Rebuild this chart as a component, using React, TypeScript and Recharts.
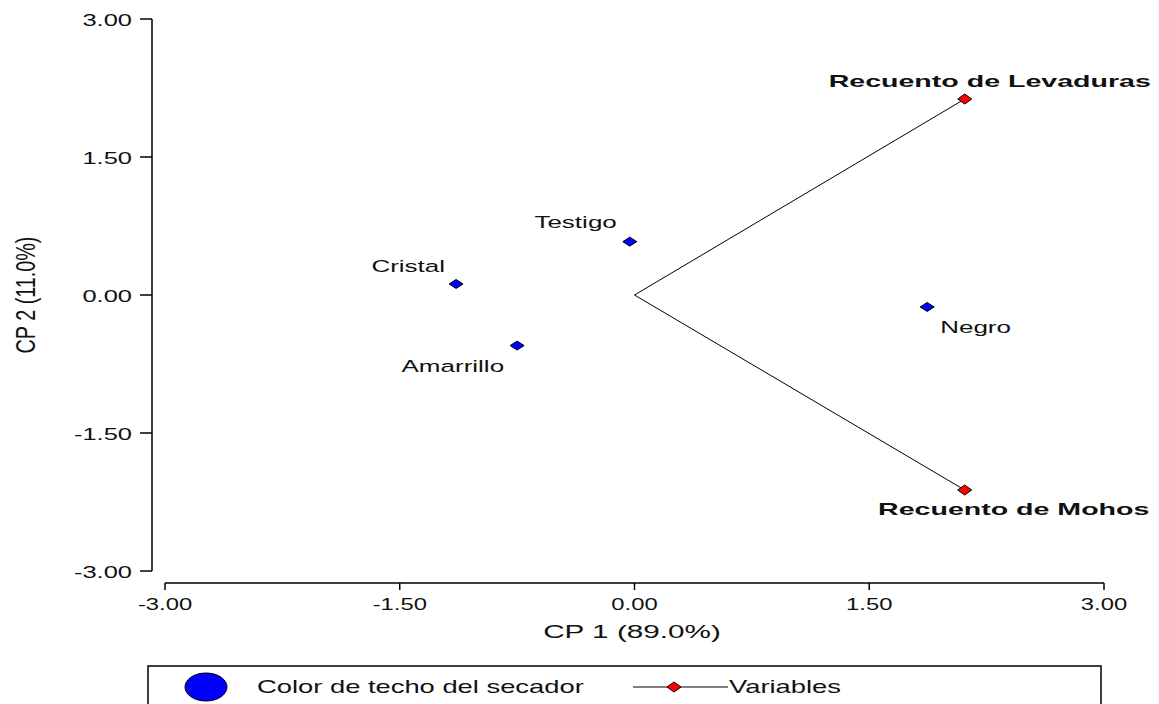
import React from 'react'
import { ScatterChart, Scatter, XAxis, YAxis } from 'recharts'

// Scores: color de techo del secador
const treatments = ['Cristal', 'Testigo', 'Amarrillo', 'Negro']
const cp1Scores = [-1.14, -0.03, -0.75, 1.87]
const cp2Scores = [0.12, 0.58, -0.55, -0.13]

// Variables (vectores desde el origen)
const variables = ['Recuento de Levaduras', 'Recuento de Mohos']
const cp1Loadings = [2.11, 2.11]
const cp2Loadings = [2.13, -2.12]

const axisTicks = [-3, -1.5, 0, 1.5, 3]

const scoreData = treatments.map((name, i) => ({ name, x: cp1Scores[i], y: cp2Scores[i] }))
// Levaduras -> origen -> Mohos, drawn as one joined line
const vectorData = [
    { name: variables[0], x: cp1Loadings[0], y: cp2Loadings[0] },
    { name: '', x: 0, y: 0 },
    { name: variables[1], x: cp1Loadings[1], y: cp2Loadings[1] },
]

// label offsets relative to the point (pixels)
const labelPlacement: Record<string, { dx: number; dy: number; anchor: string }> = {
    Cristal: { dx: -11, dy: -12, anchor: 'end' },
    Testigo: { dx: -13, dy: -14, anchor: 'end' },
    Amarrillo: { dx: -13, dy: 26, anchor: 'end' },
    Negro: { dx: 13, dy: 26, anchor: 'start' },
    'Recuento de Levaduras': { dx: 25, dy: -12, anchor: 'middle' },
    'Recuento de Mohos': { dx: 49, dy: 25, anchor: 'middle' },
}

const FONT = "'Liberation Sans', Arial, sans-serif"
const INK = '#111'

// the reference is stretched sideways, so text gets a horizontal scale
function WideText({ x, y, sx = 1.53, anchor = 'start', size = 17, bold = false, children }: any) {
    return (
        <text
            transform={`translate(${x},${y}) scale(${sx},1)`}
            textAnchor={anchor}
            fontSize={size}
            fontWeight={bold ? 'bold' : 'normal'}
            fontFamily={FONT}
            fill={INK}
        >
            {children}
        </text>
    )
}

const diamond = (cx: number, cy: number, hw: number, hh: number) =>
    `${cx - hw},${cy} ${cx},${cy - hh} ${cx + hw},${cy} ${cx},${cy + hh}`

function ScorePoint(props: any) {
    const { cx, cy, payload } = props
    const p = labelPlacement[payload.name]
    return (
        <g>
            <polygon points={diamond(cx, cy, 7, 4.5)} fill="#0000FF" stroke="#000" strokeWidth={1} />
            <WideText x={cx + p.dx} y={cy + p.dy} anchor={p.anchor}>{payload.name}</WideText>
        </g>
    )
}

function VectorPoint(props: any) {
    const { cx, cy, payload } = props
    if (!payload.name) return <g />
    const p = labelPlacement[payload.name]
    return (
        <g>
            <polygon points={diamond(cx, cy, 7, 5)} fill="#FF0000" stroke="#000" strokeWidth={1} />
            <WideText x={cx + p.dx} y={cy + p.dy} anchor={p.anchor} bold sx={1.68}>{payload.name}</WideText>
        </g>
    )
}

function XTick(props: any) {
    const { x, y, payload } = props
    return <WideText x={x} y={y + 20} anchor="middle" sx={1.4}>{payload.value.toFixed(2)}</WideText>
}

function YTick(props: any) {
    const { x, y, payload } = props
    return <WideText x={x} y={y + 7} anchor="end" sx={1.5}>{payload.value.toFixed(2)}</WideText>
}

function XTitle(props: any) {
    const { viewBox } = props
    return (
        <WideText x={viewBox.x + viewBox.width / 2 + 4} y={viewBox.y + 55} anchor="middle" size={18} sx={1.65}>
            CP 1 (89.0%)
        </WideText>
    )
}

function YTitle(props: any) {
    const { viewBox } = props
    const cy = viewBox.y + viewBox.height / 2 - 6
    return (
        <text
            transform={`translate(35,${cy}) rotate(-90) scale(1.1,1.5)`}
            textAnchor="middle"
            fontSize={18}
            fontFamily={FONT}
            fill={INK}
        >
            CP 2 (11.0%)
        </text>
    )
}

function LegendBox() {
    return (
        <svg width={1159} height={704} style={{ position: 'absolute', left: 0, top: 0, pointerEvents: 'none' }}>
            <rect x={148} y={666} width={953} height={80} fill="none" stroke="#000" strokeWidth={1.5} />
            <ellipse cx={206} cy={687} rx={21} ry={14} fill="#0000FF" stroke="#000" strokeWidth={1} />
            <WideText x={257} y={693} size={18} sx={1.52}>Color de techo del secador</WideText>
            <line x1={633} y1={687} x2={728} y2={687} stroke="#000" strokeWidth={1.2} />
            <polygon points={diamond(674, 687, 7, 5)} fill="#FF0000" stroke="#000" strokeWidth={1} />
            <WideText x={729} y={693} size={18} sx={1.52}>Variables</WideText>
        </svg>
    )
}

export default function App() {
    return (
        <div style={{ position: 'absolute', left: 0, top: 0, width: 1159, height: 704, background: '#fff' }}>
            <ScatterChart width={1159} height={704} margin={{ top: 19, right: 55, bottom: 61, left: 0 }}>
                <XAxis
                    type="number"
                    dataKey="x"
                    domain={[-3, 3]}
                    ticks={axisTicks}
                    padding={{ left: 13, right: 0 }}
                    height={60}
                    tickSize={7}
                    tickMargin={0}
                    axisLine={{ stroke: '#000', strokeWidth: 1.5, strokeDasharray: '0 13 939 20' }}
                    tickLine={{ stroke: '#000', strokeWidth: 1.5 }}
                    tick={<XTick />}
                    label={{ content: XTitle }}
                />
                <YAxis
                    type="number"
                    dataKey="y"
                    domain={[-3, 3]}
                    ticks={axisTicks}
                    padding={{ top: 0, bottom: 12 }}
                    width={152}
                    tickSize={12}
                    tickMargin={8}
                    axisLine={{ stroke: '#000', strokeWidth: 1.5, strokeDasharray: '552 20' }}
                    tickLine={{ stroke: '#000', strokeWidth: 1.5 }}
                    tick={<YTick />}
                    label={{ content: YTitle }}
                />
                <Scatter
                    name="Variables"
                    data={vectorData}
                    line={{ stroke: '#000', strokeWidth: 1 }}
                    shape={<VectorPoint />}
                    isAnimationActive={false}
                />
                <Scatter
                    name="Color de techo del secador"
                    data={scoreData}
                    shape={<ScorePoint />}
                    isAnimationActive={false}
                />
            </ScatterChart>
            <LegendBox />
        </div>
    )
}
